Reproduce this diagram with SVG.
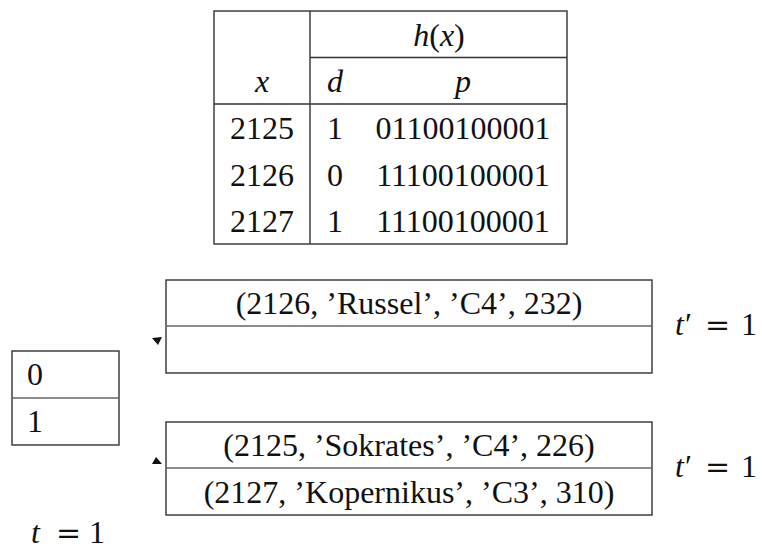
<svg xmlns="http://www.w3.org/2000/svg" width="762" height="550" viewBox="0 0 762 550">
<style>
.t{font-family:"Liberation Serif","Times New Roman",serif;font-size:32px;fill:#111}
.m{font-family:"Liberation Serif","Times New Roman",serif;font-size:32px;font-style:italic;fill:#111}
.u{font-style:normal}
.eq{font-family:"DejaVu Serif",serif;font-style:normal;font-size:30px}
.c{text-anchor:middle}
.b{fill:none;stroke:#333;stroke-width:1.4}
.l{stroke:#333;stroke-width:1.4}
.g{stroke:#666;stroke-width:1.6}
.ah{fill:#111}
</style>
<rect width="762" height="550" fill="#fff"/>
<g id="hash-table">
<rect class="b" x="214" y="11" width="353" height="233"/>
<line class="l" x1="310" y1="11" x2="310" y2="244"/>
<line class="l" x1="310" y1="57.5" x2="567" y2="57.5"/>
<line class="l" x1="214" y1="104" x2="567" y2="104"/>
<text class="m c" x="439" y="46">h<tspan class="u">(</tspan>x<tspan class="u">)</tspan></text>
<text class="m c" x="262" y="92">x</text>
<text class="m c" x="335" y="92">d</text>
<text class="m c" x="463" y="92">p</text>
<text class="t c" x="262" y="139">2125</text>
<text class="t c" x="335" y="139">1</text>
<text class="t c" x="463" y="139">01100100001</text>
<text class="t c" x="262" y="186">2126</text>
<text class="t c" x="335" y="186">0</text>
<text class="t c" x="463" y="186">11100100001</text>
<text class="t c" x="262" y="232">2127</text>
<text class="t c" x="335" y="232">1</text>
<text class="t c" x="463" y="232">11100100001</text>
</g>
<g id="directory">
<rect class="b" x="12" y="351" width="107" height="94"/>
<line class="g" x1="12" y1="398" x2="119" y2="398"/>
<text class="t" x="27" y="385">0</text>
<text class="t" x="27" y="432">1</text>
</g>
<g id="bucket-1">
<rect class="b" x="166" y="280" width="486" height="93"/>
<line class="g" x1="166" y1="326" x2="652" y2="326"/>
<text class="t c" x="409" y="314">(2126, ’Russel’, ’C4’, 232)</text>
</g>
<g id="bucket-2">
<rect class="b" x="166" y="422" width="486" height="93"/>
<line class="g" x1="166" y1="468" x2="652" y2="468"/>
<text class="t c" x="409" y="456">(2125, ’Sokrates’, ’C4’, 226)</text>
<text class="t c" x="409" y="503">(2127, ’Kopernikus’, ’C3’, 310)</text>
</g>
<g id="labels">
<text class="m" x="675" y="335">t<tspan class="u" dx="1">′</tspan><tspan class="eq" x="705">=</tspan><tspan class="u" x="741">1</tspan></text>
<text class="m" x="675" y="477">t<tspan class="u" dx="1">′</tspan><tspan class="eq" x="705">=</tspan><tspan class="u" x="741">1</tspan></text>
<text class="m" x="31" y="543">t<tspan class="eq" x="56">=</tspan><tspan class="u" x="89">1</tspan></text>
</g>
<g id="connectors">
<polygon class="ah" points="152,338 162,337 158,345"/>
<polygon class="ah" points="152,464 162,464 156,457"/>
</g>
</svg>
